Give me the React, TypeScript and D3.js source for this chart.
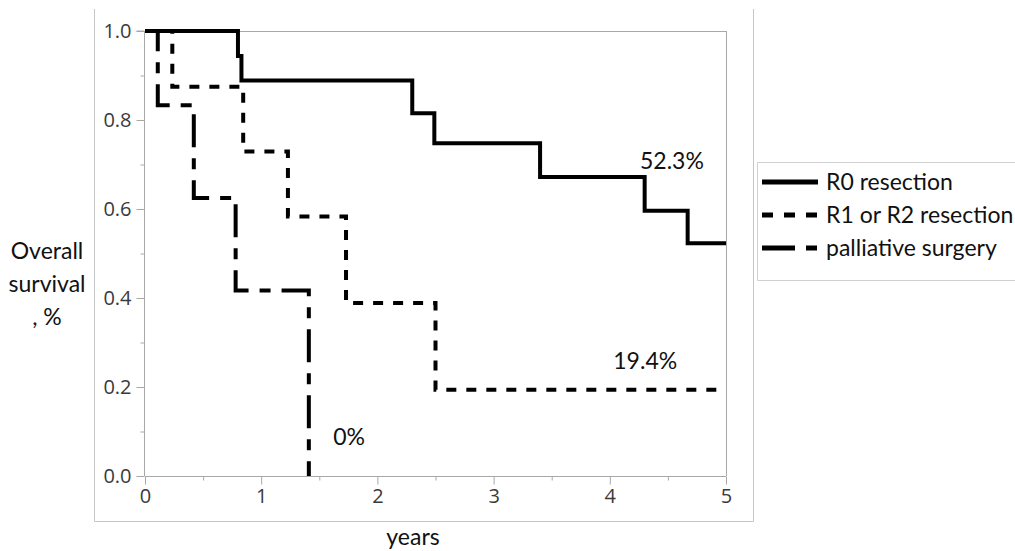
import { useRef, useEffect } from "react";
import * as d3 from "d3";

// Kaplan-Meier curves (years, survival fraction)
const r0Years = [0, 0.8, 0.83, 2.3, 2.49, 3.4, 4.3, 4.67, 5];
const r0Surv = [1, 0.944, 0.889, 0.815, 0.748, 0.672, 0.596, 0.523, 0.523];

const r12Years = [0, 0.235, 0.845, 1.23, 1.73, 2.5, 5];
const r12Surv = [1, 0.875, 0.729, 0.583, 0.389, 0.194, 0.194];

const palYears = [0, 0.11, 0.42, 0.78, 1.41];
const palSurv = [1, 0.833, 0.625, 0.417, 0];

const seriesNames = ["R0 resection", "R1 or R2 resection", "palliative surgery"];
const endLabels = ["52.3%", "19.4%", "0%"];

const yTicks = [0, 0.2, 0.4, 0.6, 0.8, 1.0];
const xTicks = [0, 1, 2, 3, 4, 5];

const width = 1015;
const height = 551;
const labelFont = "Lato, 'Open Sans', sans-serif";
const tickFont = "'Open Sans', 'Noto Sans', sans-serif";
const labelSize = 23;

function App() {
  const svgRef = useRef<SVGSVGElement>(null);

  useEffect(() => {
    const svg = d3.select(svgRef.current);
    svg.selectAll("*").remove();

    const x = d3.scaleLinear().domain([0, 5]).range([145, 726]);
    const y = d3.scaleLinear().domain([0, 1]).range([476, 31]);

    // outer frame (no top edge)
    const frame = svg.append("g").attr("stroke", "#c6c6c6").attr("fill", "none");
    frame.append("path").attr("d", "M94.5,9 V521.5 H753.5 V9");

    // plot box top + right
    const box = svg.append("g").attr("stroke", "#a8a8a8").attr("fill", "none");
    box.append("line").attr("x1", x(0)).attr("x2", x(5) + 1).attr("y1", y(1) + 0.5).attr("y2", y(1) + 0.5);
    box.append("line").attr("x1", x(5) + 0.5).attr("x2", x(5) + 0.5).attr("y1", y(1)).attr("y2", y(0));

    // y axis
    const yAxis = svg
      .append("g")
      .attr("transform", `translate(${x(0) - 0.5},0)`)
      .call(d3.axisLeft(y).tickValues(yTicks).tickSize(8).tickFormat(d3.format(".1f")));
    svg
      .append("g")
      .attr("transform", `translate(${x(0) - 0.5},0)`)
      .call(d3.axisLeft(y).tickValues(d3.range(0.1, 1, 0.2)).tickSize(4).tickFormat(() => ""))
      .call((g) => g.select(".domain").remove());

    // x axis
    const xAxis = svg
      .append("g")
      .attr("transform", `translate(0,${y(0) + 0.5})`)
      .call(d3.axisBottom(x).tickValues(xTicks).tickSize(8).tickFormat(d3.format("d")));
    svg
      .append("g")
      .attr("transform", `translate(0,${y(0) + 0.5})`)
      .call(d3.axisBottom(x).tickValues(d3.range(0.5, 5, 1)).tickSize(4).tickFormat(() => ""))
      .call((g) => g.select(".domain").remove());

    svg.selectAll(".domain, .tick line").attr("stroke", "#a8a8a8");
    yAxis.selectAll(".domain").attr("d", `M-8,${y(1)}H0V${y(0)}`);
    xAxis.selectAll(".domain").attr("d", `M${x(0)},0H${x(5)}`);

    yAxis
      .selectAll(".tick text")
      .attr("x", -13)
      .attr("font-size", 20)
      .attr("font-family", tickFont)
      .attr("fill", "#3a3a3a");
    xAxis
      .selectAll(".tick text")
      .attr("y", 12)
      .attr("font-size", 20)
      .attr("font-family", tickFont)
      .attr("fill", "#3a3a3a");

    // curves
    const line = d3
      .line<[number, number]>()
      .x((d) => x(d[0]))
      .y((d) => y(d[1]))
      .curve(d3.curveStepAfter);

    const series = [
      { t: palYears, s: palSurv, dash: "33,11,11,11" },
      { t: r12Years, s: r12Surv, dash: "10,10" },
      { t: r0Years, s: r0Surv, dash: null },
    ];
    series.forEach((sr) => {
      const pts = sr.t.map((t, i) => [t, sr.s[i]] as [number, number]);
      svg
        .append("path")
        .attr("d", line(pts))
        .attr("fill", "none")
        .attr("stroke", "#000")
        .attr("stroke-width", 4)
        .attr("stroke-dasharray", sr.dash);
    });

    // end-of-curve annotations
    const annot = [
      { text: endLabels[0], x: 4.26, y: 0.69 },
      { text: endLabels[1], x: 4.03, y: 0.24 },
      { text: endLabels[2], x: 1.62, y: 0.07 },
    ];
    svg
      .append("g")
      .selectAll("text")
      .data(annot)
      .join("text")
      .attr("x", (d) => x(d.x))
      .attr("y", (d) => y(d.y))
      .attr("font-family", labelFont)
      .attr("font-size", labelSize)
      .attr("fill", "#111")
      .text((d) => d.text);

    // axis titles
    const yTitle = svg
      .append("text")
      .attr("text-anchor", "middle")
      .attr("font-family", labelFont)
      .attr("font-size", labelSize)
      .attr("fill", "#111");
    ["Overall", "survival", ", %"].forEach((t, i) => {
      yTitle.append("tspan").attr("x", 47).attr("y", 259 + i * 33).text(t);
    });
    svg
      .append("text")
      .attr("x", 413)
      .attr("y", 545)
      .attr("text-anchor", "middle")
      .attr("font-family", labelFont)
      .attr("font-size", labelSize)
      .attr("fill", "#111")
      .text("years");

    // legend
    const legend = svg.append("g");
    legend
      .append("path")
      .attr("d", "M1016,162.5 H757.5 V280.5 H1016")
      .attr("fill", "none")
      .attr("stroke", "#d0d0d0");
    const legendDash = [null, "11,11", "33,11,11,11"];
    seriesNames.forEach((name, i) => {
      const ly = 182 + i * 33;
      legend
        .append("line")
        .attr("x1", 762)
        .attr("x2", 818)
        .attr("y1", ly)
        .attr("y2", ly)
        .attr("stroke", "#000")
        .attr("stroke-width", 5)
        .attr("stroke-dasharray", legendDash[i]);
      legend
        .append("text")
        .attr("x", 826)
        .attr("y", ly + 8)
        .attr("font-family", labelFont)
        .attr("font-size", labelSize)
        .attr("fill", "#111")
        .text(name);
    });
  }, []);

  return (
    <svg
      ref={svgRef}
      width={width}
      height={height}
      style={{ position: "absolute", left: 0, top: 0, background: "#fff" }}
    />
  );
}

export default App;
